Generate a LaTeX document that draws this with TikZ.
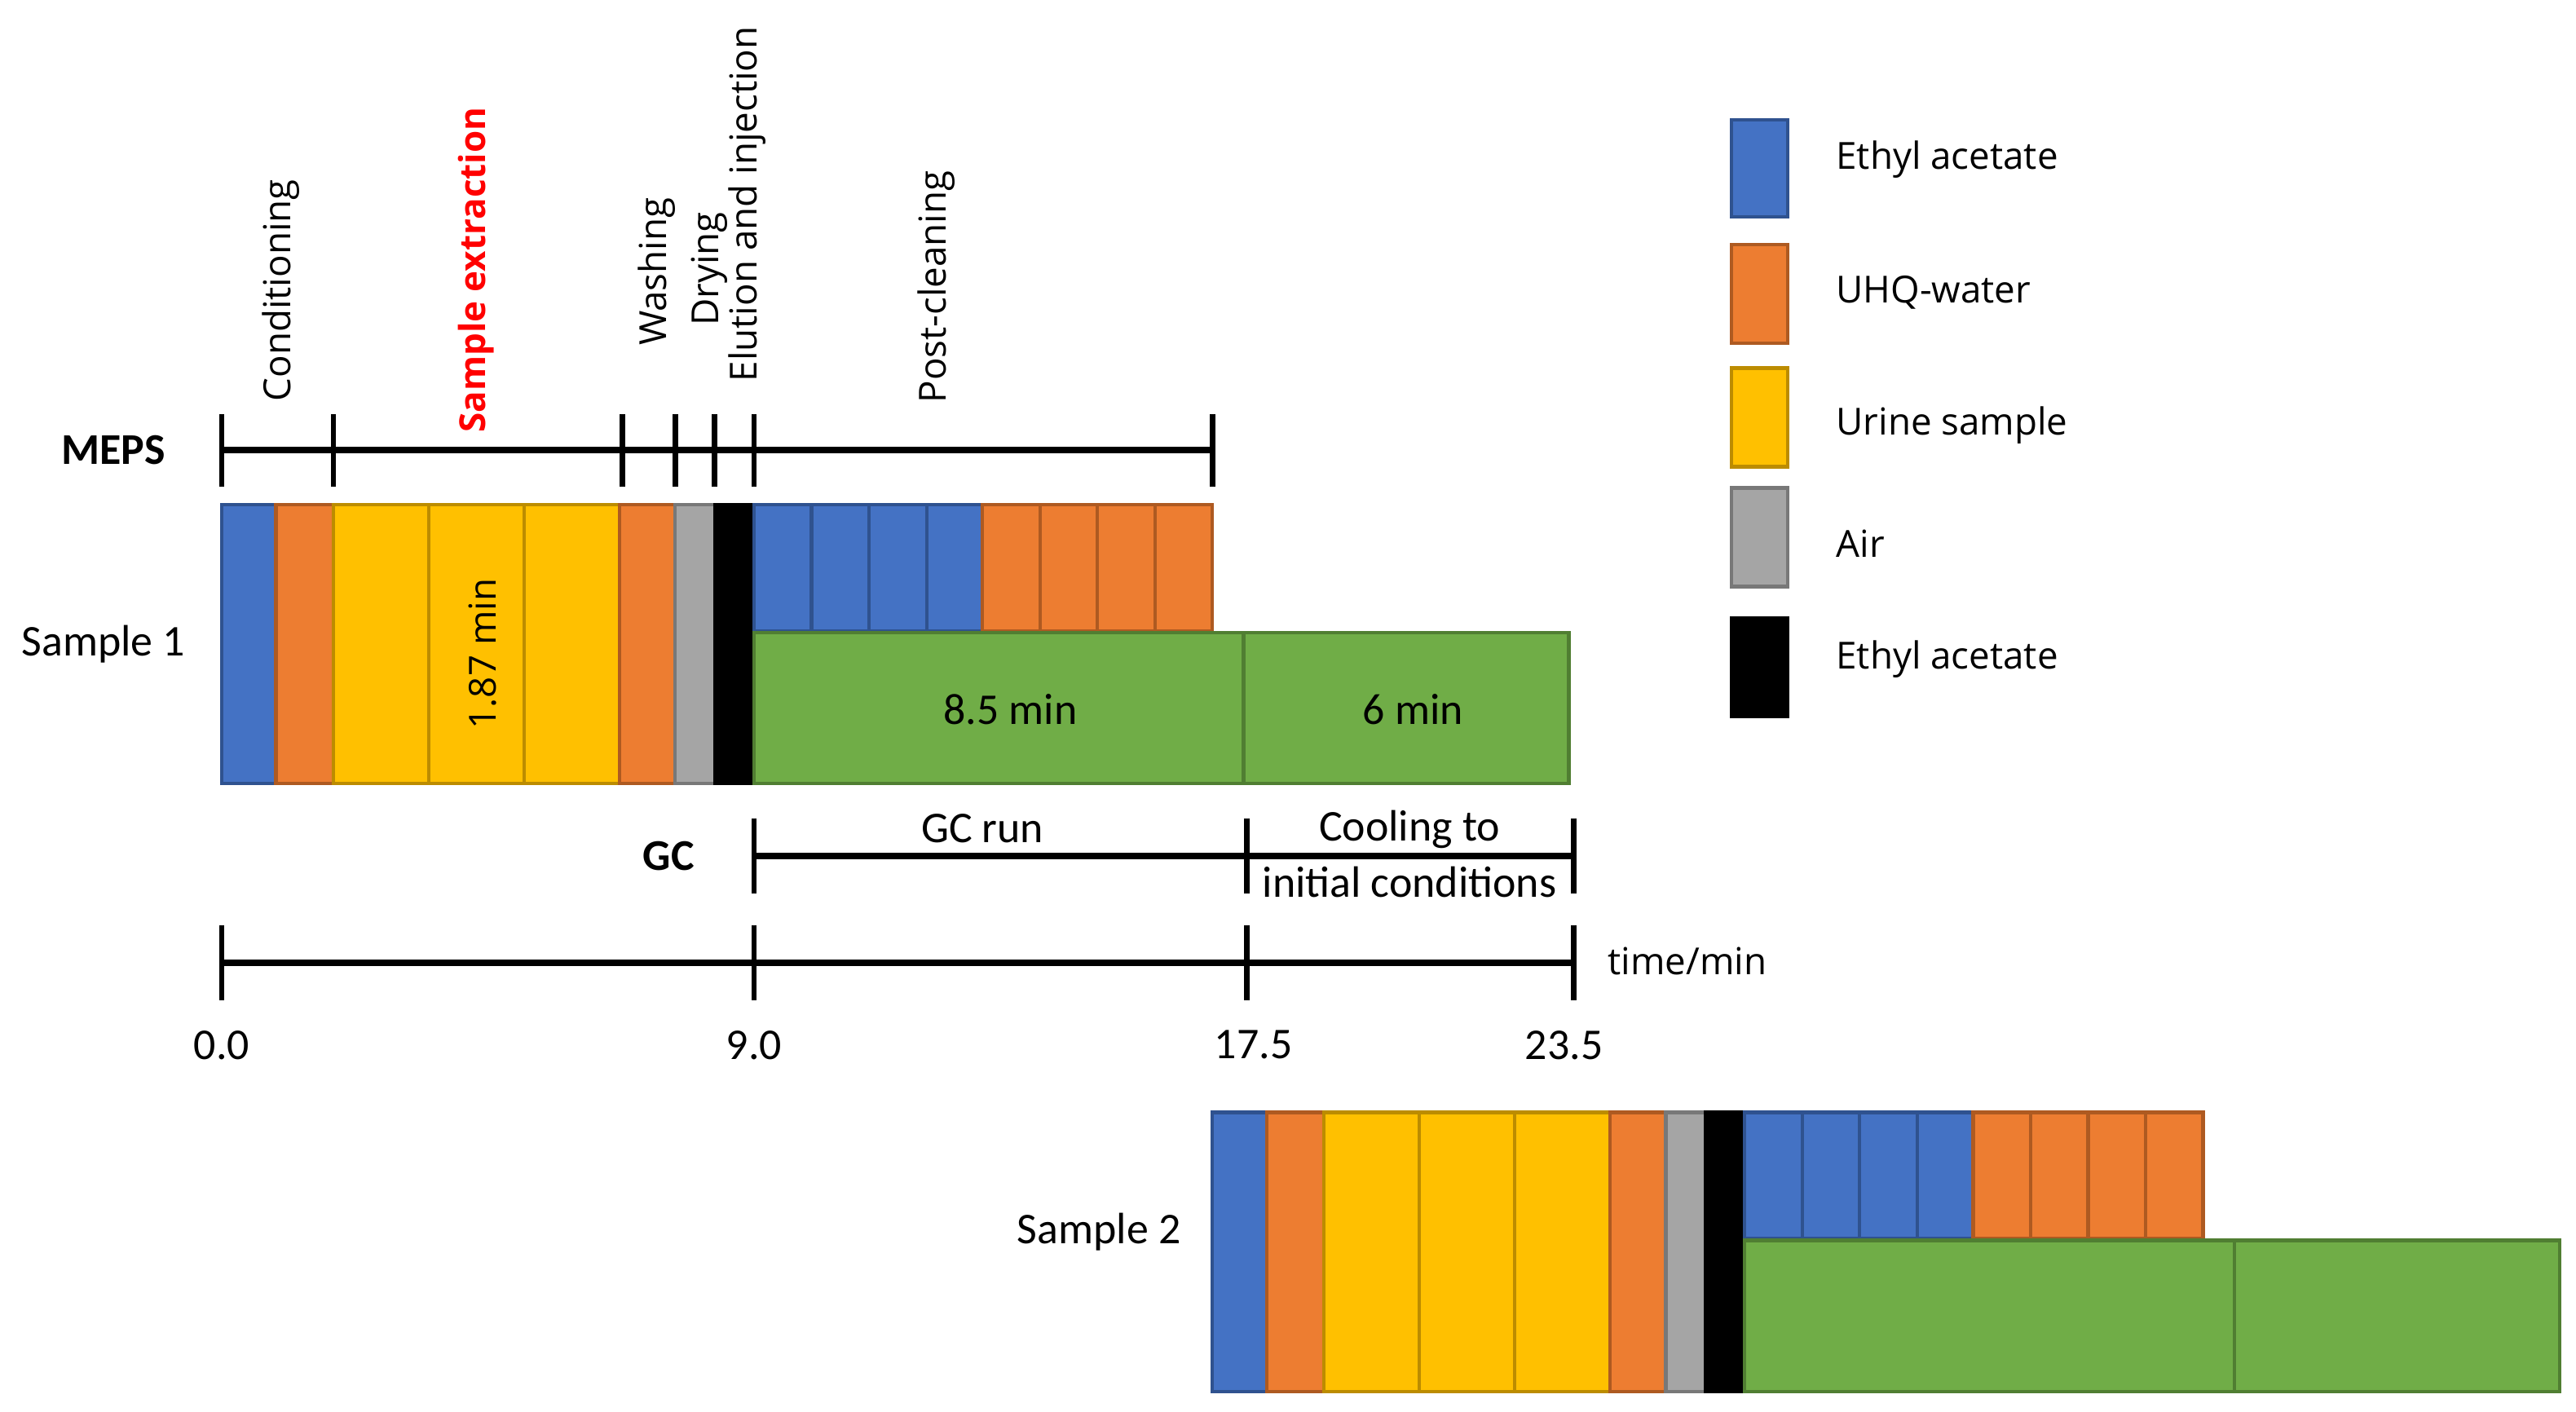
\documentclass[tikz,border=0pt]{standalone}
\usepackage{fontspec}
\setmainfont{Open Sans}
\newfontfamily\calfont{Carlito}
\definecolor{cblue}{HTML}{4472C4}\definecolor{cblueD}{HTML}{2F528F}
\definecolor{corange}{HTML}{ED7D31}\definecolor{corangeD}{HTML}{AE5A21}
\definecolor{cyellow}{HTML}{FFC000}\definecolor{cyellowD}{HTML}{BC8C00}
\definecolor{cgray}{HTML}{A5A5A5}\definecolor{cgrayD}{HTML}{787878}
\definecolor{cgreen}{HTML}{70AD47}\definecolor{cgreenD}{HTML}{507E32}
\newcommand\osf{\fontsize{6.45pt}{7.5pt}\selectfont}
\newcommand\osb{\fontsize{6.2pt}{7.5pt}\selectfont\bfseries}
\newcommand\clf{\calfont\fontsize{7.6pt}{9pt}\selectfont}
\tikzset{
  box/.style={line width=0.6pt},
  bluebox/.style={box,fill=cblue,draw=cblueD},
  orangebox/.style={box,fill=corange,draw=corangeD},
  yellowbox/.style={box,fill=cyellow,draw=cyellowD},
  graybox/.style={box,fill=cgray,draw=cgrayD},
  blackbox/.style={box,fill=black,draw=black},
  greenbox/.style={box,fill=cgreen,draw=cgreenD},
  axisline/.style={line width=1.15pt},
  tickline/.style={line width=0.95pt},
  rotlab/.style={rotate=90,anchor=west,inner sep=0pt,font=\osf},
  oslab/.style={inner sep=0pt,font=\osf},
  callab/.style={inner sep=0pt,font=\clf},
  sample/.pic={
    \draw[bluebox] (0,0) rectangle (33,170);
    \draw[orangebox] (33,0) rectangle (68,170);
    \foreach \a/\b in {68/126,126/184,184/242} \draw[yellowbox] (\a,0) rectangle (\b,170);
    \draw[orangebox] (242,0) rectangle (276,170);
    \draw[graybox] (276,0) rectangle (300,170);
    \draw[blackbox] (300,0) rectangle (324,170);
    \foreach \a/\b in {324/359,359/394,394/429,429/463} \draw[bluebox] (\a,0) rectangle (\b,77);
    \foreach \a/\b in {463/498,498/533,533/568,568/603} \draw[orangebox] (\a,0) rectangle (\b,77);
    \draw[greenbox] (324,78) rectangle (622,170);
    \draw[greenbox] (622,78) rectangle (820,170);
  }
}
\begin{document}
\begin{tikzpicture}[x=0.01cm,y=-0.01cm]
\useasboundingbox (0,0) rectangle (1568,859);

% phase labels
\node[rotlab] (tcond) at (171,245) {Conditioning};
\node[rotlab,font=\osb,text=red] (textr) at (290,264) {Sample extraction};
\node[rotlab] (twash) at (400,211) {Washing};
\node[rotlab] (tdry) at (432,199) {Drying};
\node[rotlab] (telu) at (455,233) {Elution and injection};
\node[rotlab] (tpost) at (570,246) {Post-cleaning};

% MEPS axis
\node[callab,font=\clf\bfseries] (meps) at (69,274) {MEPS};
\coordinate (m0) at (135,274);
\coordinate (m1) at (203,274);
\coordinate (m2) at (379,274);
\coordinate (m3) at (411,274);
\coordinate (m4) at (435,274);
\coordinate (m5) at (459,274);
\coordinate (m6) at (738,274);
\draw[axisline] (m0) -- (m6);
\foreach \c in {m0,m1,m2,m3,m4,m5,m6} \draw[tickline] (\c) ++(0,-22) -- ++(0,44);

% samples
\pic at (135,307) {sample};
\pic at (738,677) {sample};
\node[callab] (s1) at (63,392) {Sample 1};
\node[callab] (s2) at (669,750) {Sample 2};
\node[oslab,rotate=90] (t187) at (294,398) {1.87 min};
\node[callab] (t85) at (615,432) {8.5 min};
\node[callab] (t6) at (860,432) {6 min};

% GC axis
\node[callab,font=\clf\bfseries] (gc) at (407,521) {GC};
\coordinate (g0) at (459,521);
\coordinate (g1) at (759,521);
\coordinate (g2) at (958,521);
\draw[axisline] (g0) -- (g2);
\foreach \c in {g0,g1,g2} \draw[tickline] (\c) ++(0,-23) -- ++(0,46);
\node[callab] (gcrun) at (598,504) {GC run};
\node[callab] (cool1) at (858,505) {Cooling to};
\node[callab] (cool2) at (858,537) {initial conditions};

% time axis
\coordinate (a0) at (135,586);
\coordinate (a1) at (459,586);
\coordinate (a2) at (759,586);
\coordinate (a3) at (958,586);
\draw[axisline] (a0) -- (a3);
\foreach \c in {a0,a1,a2,a3} \draw[tickline] (\c) ++(0,-23) -- ++(0,46);
\node[oslab,anchor=west] (tmin) at (978,585) {time/min};
\node[callab] (l0) at (135,636) {0.0};
\node[callab] (l1) at (459,636) {9.0};
\node[callab] (l2) at (763,636) {17.5};
\node[callab] (l3) at (952,636) {23.5};

% legend
\draw[bluebox] (1054,73) rectangle (1088,132);
\draw[orangebox] (1054,149) rectangle (1088,209);
\draw[yellowbox] (1054,224) rectangle (1088,284);
\draw[graybox] (1054,297) rectangle (1088,357);
\draw[blackbox] (1054,376) rectangle (1088,436);
\node[oslab,anchor=west] (lg1) at (1117,97) {Ethyl acetate};
\node[oslab,anchor=west] (lg2) at (1117,178) {UHQ-water};
\node[oslab,anchor=west] (lg3) at (1117,259) {Urine sample};
\node[oslab,anchor=west] (lg4) at (1117,331) {Air};
\node[oslab,anchor=west] (lg5) at (1117,401) {Ethyl acetate};
\end{tikzpicture}
\end{document}
